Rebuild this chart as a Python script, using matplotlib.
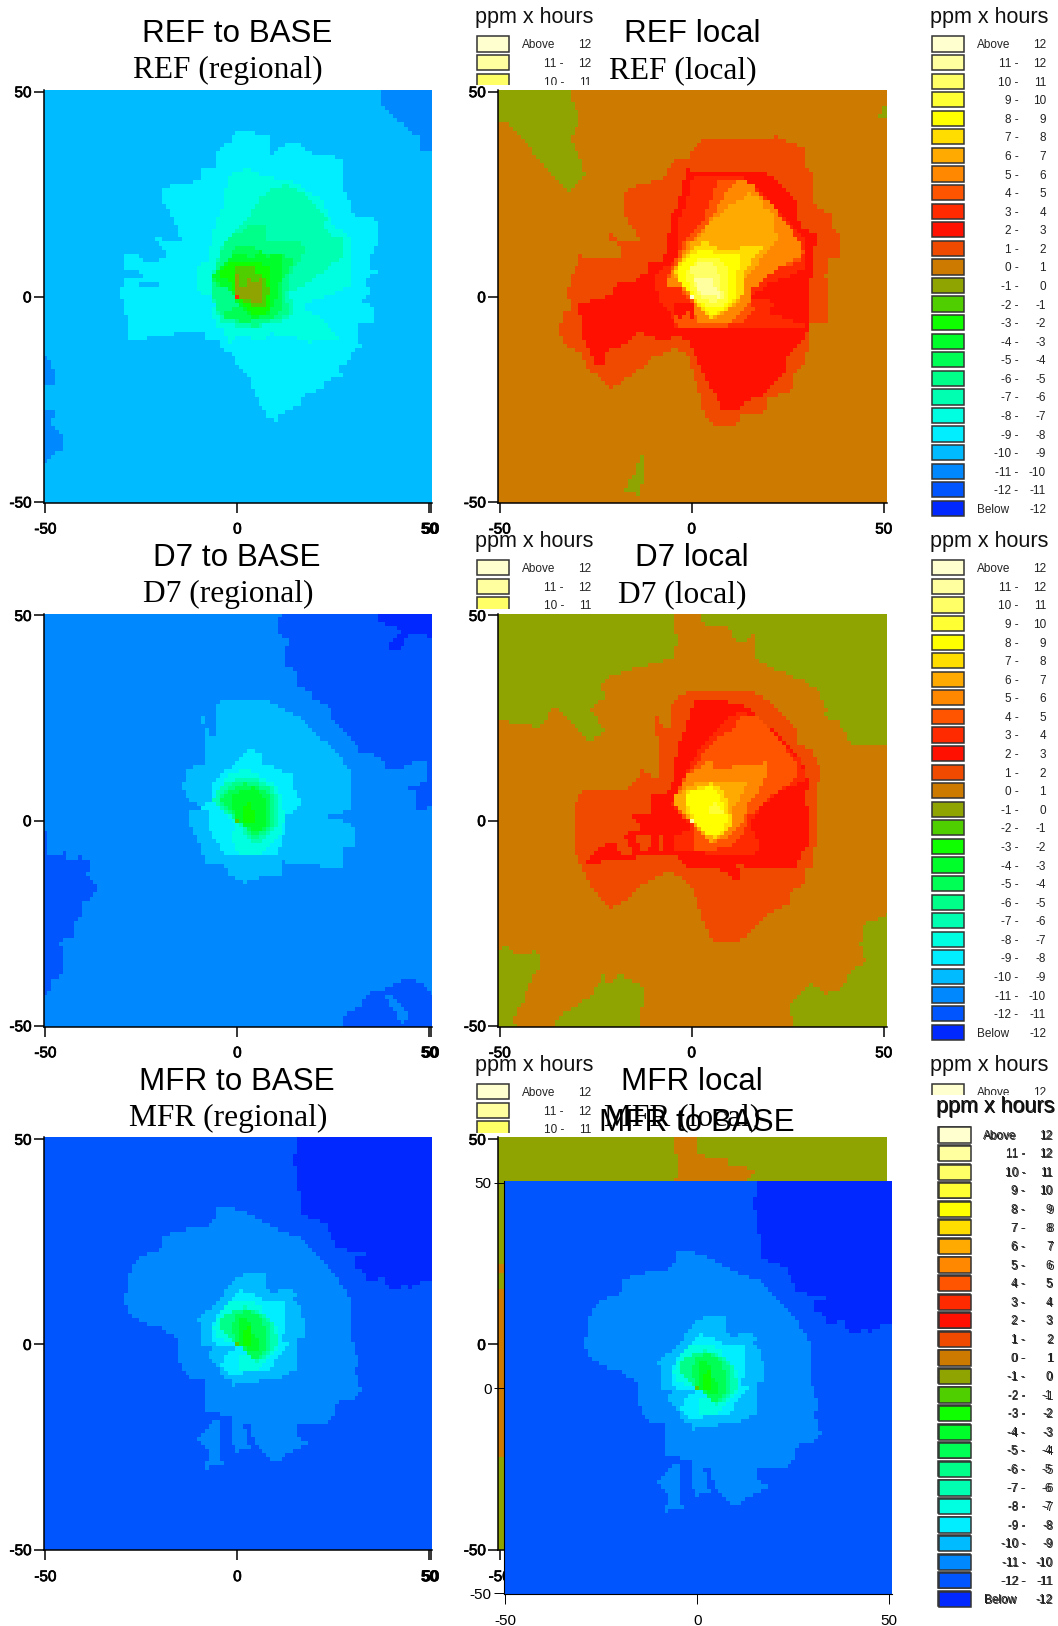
#!/usr/bin/env python3
"""Six ozone difference maps (ppm x hours), one pasted over another."""

import numpy as np
import matplotlib
matplotlib.use("Agg")
import matplotlib.pyplot as plt
import matplotlib.patheffects as pe
from matplotlib.colors import BoundaryNorm, ListedColormap
from matplotlib.patches import Rectangle
from matplotlib.path import Path

plt.rcParams["font.family"] = ["Liberation Sans", "DejaVu Sans"]
plt.rcParams["axes.unicode_minus"] = False

W, H = 1058, 1626
SANS, SERIF = "Liberation Sans", "Liberation Serif"

# legend, top to bottom
BAND_COLORS = ["#ffffd0", "#ffffa0", "#ffff66", "#ffff33", "#ffff00", "#ffdd00",
               "#ffaa00", "#ff8800", "#ff5500", "#ff2a00", "#ff1000", "#f04a00",
               "#cc7a00", "#8fa400", "#4fce00", "#10ff00", "#00ff2a", "#00ff55",
               "#00ff88", "#00ffb0", "#00ffe0", "#00eeff", "#00bbff", "#0088ff",
               "#0055ff", "#0028ff"]
LEGEND_LOW = ["Above", "11 -", "10 -", "9 -", "8 -", "7 -", "6 -", "5 -", "4 -",
              "3 -", "2 -", "1 -", "0 -", "-1 -", "-2 -", "-3 -", "-4 -", "-5 -",
              "-6 -", "-7 -", "-8 -", "-9 -", "-10 -", "-11 -", "-12 -", "Below"]
LEGEND_HIGH = ["12", "12", "11", "10", "9", "8", "7", "6", "5", "4", "3", "2", "1",
               "0", "-1", "-2", "-3", "-4", "-5", "-6", "-7", "-8", "-9", "-10",
               "-11", "-12"]
TICKS = [-50, 0, 50]

# contour outlines, in km; a band is named by its lower bound
REF_REG_NE = [(38, 51), (52, 51), (52, 35.5), (48, 35.5), (47, 39), (44, 41.4), (40.7, 43.5), (37, 47.3)]
REF_REG_W1 = [(-52, -14.5), (-49.5, -14.5), (-47.2, -18.7), (-47.2, -21.2), (-52, -21.5)]
REF_REG_W2 = [(-52, -27.5), (-47.2, -27.5), (-47.2, -28.3), (-48.5, -30.4), (-45.6, -34.2), (-45.6, -37),
              (-48.5, -38.4), (-49.5, -40.5), (-52, -40.5)]
REF_REG_M9 = [(0.4, 41), (6.3, 39.6), (8.5, 39), (8.5, 34.3), (10.7, 36), (13.7, 37.4), (16.3, 37.4), (18.5, 35.5),
              (21, 34.3), (25.4, 34), (27.6, 33), (27.6, 25.8), (29.3, 23), (30.2, 19.7), (34.5, 19.7), (37, 18),
              (37, 12.4), (35.4, 12), (34, 6.7), (36.3, 5.9), (33, 4.6), (34.4, 1), (32.8, -1), (35.2, -2.7),
              (35.2, -6.3), (31.5, -6.5), (31.5, -10.4), (32.8, -12), (29.3, -13.7), (29.3, -15.3), (26.3, -17),
              (27.6, -19), (22.4, -20.6), (22.4, -22.6), (18, -23.4), (16.3, -25.9), (11, -28.7), (9.8, -30.3),
              (7.6, -29), (6.3, -26.7), (4.6, -23.4), (2.4, -18.5), (-0.2, -16), (-1.5, -13.7), (-3.6, -13.3),
              (-4.5, -10.4), (-8.4, -10.4), (-8.4, -8.4), (-16.7, -8.4), (-16.7, -9.6), (-23.6, -9.6),
              (-23.6, -10.4), (-28.4, -10.3), (-28.4, -7.3), (-30.4, 1), (-29.4, 4.5), (-23.7, 4.6), (-25.8, 6.1),
              (-29.4, 7), (-29.4, 10.3), (-25.8, 10.3), (-24.2, 8.2), (-18.6, 9.5), (-18.6, 11.6), (-22, 13.7),
              (-22, 15.4), (-19, 13.7), (-14.5, 13.7), (-17.5, 21), (-19.6, 23), (-20, 26.3), (-17.5, 27),
              (-9.3, 28.4), (-9.3, 31.3), (-5.7, 31.3), (-5.7, 35.5), (-2, 38)]
REF_REG_SLIT = [(-26, 3.4), (-20.5, 3.4), (-20.5, 2.5), (-26, 2.5)]
REF_REG_M8 = [(-2, 30), (1.5, 31), (4, 31), (6.3, 29.8), (10, 29), (13.7, 28.6), (18, 26), (22, 23.7), (24, 19.7),
              (25.4, 17.2), (29.3, 14.4), (29.3, 2.6), (26.3, 1.4), (16.3, -2.3), (21.5, -4.7), (23.3, -6.3),
              (26.3, -10), (19.8, -10.4), (19.8, -11.6), (18, -10.4), (8.5, -8.8), (6.8, -10.4), (3.3, -10),
              (-0.2, -9.6), (-2, -11.2), (-3.6, -8), (-5.4, -7.2), (-7, -3.9), (-7.5, -1.5), (-10.6, 1),
              (-10.6, 7.5), (-7.5, 9), (-6.7, 15.2), (-5.4, 18.5), (-3.6, 22.5), (-2.8, 27.4)]
REF_REG_WEDGE = [(-10, 1), (0, 0), (-0.5, -1), (-5, -2.5), (-7, -3.5), (-8, -1.5)]
REF_REG_M7 = [(9.4, 26.6), (12.8, 27.4), (16.3, 25.8), (20.7, 21.7), (23.3, 18.9), (22.4, 16.8), (24.6, 14.8),
              (27.6, 14.1), (27.6, 10.3), (23.3, 6.7), (17.2, 2.6), (13.7, 1), (14.6, -4.7), (10.2, -6.3),
              (4.2, -7.6), (-3.6, -6.7), (-5, -4.7), (-7, 1.4), (-5.4, 9), (-3.6, 13), (-1, 15), (2.4, 19),
              (4.6, 22.5), (6.3, 24.5)]
REF_REG_M6 = [(2.9, 17.2), (7.2, 17.2), (7.6, 13), (12.8, 14), (16.3, 13), (18, 12.4), (16.3, 9), (13.7, 5),
              (12.8, 1), (13.3, -4.7), (9.8, -5.5), (4.2, -7.3), (-1.9, -5.5), (-4.5, -4.7), (-7, 2.5), (-5, 9),
              (-3.2, 13), (-1.9, 15), (0.7, 15.6)]
REF_REG_M5 = [(-7, 3.4), (-5.4, 6.3), (-1.5, 10.3), (0, 12.4), (4.6, 12.4), (5.9, 10.7), (12, 10.3), (14.6, 8.7),
              (12, 4), (12, -2.7), (10, -5), (1.6, -6.2), (-4.5, -4.7), (-2.8, -3.5), (1.6, -1.9), (0.3, -0.7),
              (-1, 0.6), (-3.6, 2.5)]
REF_REG_M4 = [(-6.3, 5), (-3.6, 8.3), (-0.6, 10.3), (2, 10.3), (4.2, 9.5), (5.5, 11.5), (7.2, 9.9), (11.5, 10.3),
              (11.5, 4.6), (9.4, -1.9), (8.5, -3.9), (4.2, -5.5), (0.7, -2.7), (-1, 0.6), (-2.8, 2.2), (-5.4, 3.8)]
REF_REG_M3 = [(-4.5, 6.3), (-1, 8.7), (6.3, 8.5), (8.5, 6.7), (8.5, 0.6), (8.5, -3.5), (6.3, -4.5), (4.2, -4.3),
              (1.6, -1.9), (0.3, -0.7), (-1, 1.8), (-2.3, 4.2), (-4.3, 4.6)]
REF_REG_M2 = [(-0.3, 7.5), (4.2, 7.5), (4.2, 6.3), (6.3, 5), (8.5, 2.2), (8.5, 0.6), (7.2, -0.6), (7.2, -2.7),
              (4.6, -2.7), (2, -1.1), (0.3, -0.7), (-0.3, 0.6)]
REF_REG_M1 = [(-0.3, 5.4), (0.5, 5.4), (0.5, 2.2), (2.4, 3), (2.4, 4.6), (3.7, 4.6), (4.2, 3.4), (6.3, 4.6), (6.3, 0.6),
              (7.2, -0.6), (5, -1.5), (2, -0.7), (0.3, -0.7), (-0.3, 0.6)]
ORIGIN_CELL = [(-0.5, -0.5), (0.5, -0.5), (0.5, 0.5), (-0.5, 0.5)]

REF_LOC_NW = [(-52, 52), (-32.4, 52), (-30.9, 47.3), (-29.1, 43.2), (-31.7, 38.4), (-29.1, 33.5), (-27.6, 29.4),
              (-31.7, 25.4), (-34.3, 27.8), (-40.4, 34.3), (-45.7, 40), (-48.3, 43.2), (-52, 41.6)]
REF_LOC_NE = [(48.7, 43.4), (50, 46.3), (52, 46.3), (52, 43.4)]
REF_LOC_S = [(-17.4, -46.9), (-15.2, -43.7), (-13.5, -38.5), (-12.6, -38.5), (-12.6, -42.9), (-13.6, -48.2), (-15.7, -47.8)]
REF_LOC_P1 = [(2, 38), (9, 38), (12, 38), (20, 38), (22, 39), (25, 38), (30, 36), (30, 32), (32, 30), (32, 22.5),
              (36.5, 20), (37, 17), (39, 15), (38.5, 10), (36, 9), (35, 5), (36, -6), (31, -7), (31, -11), (30, -14),
              (30, -16), (27, -19), (26, -23), (20, -25), (19, -28), (13, -29), (11, -32), (7, -32), (3.5, -29),
              (2, -24), (0.5, -19), (-1, -14.5), (-4, -12.5), (-10, -15), (-14, -18), (-18, -20.5), (-21, -22.5),
              (-25, -18.5), (-27, -18), (-29, -13.5), (-33.5, -11.5), (-34.5, -8), (-33.5, -4), (-31.5, -3),
              (-32.5, 1), (-31.5, 4), (-29, 10), (-25.5, 9.5), (-18.5, 9.5), (-18, 11.5), (-22, 14.5), (-21.5, 15.5),
              (-18.5, 13.5), (-13.5, 13), (-14.5, 15.5), (-16.5, 18), (-18, 21), (-18, 24.5), (-16, 26.5),
              (-7.5, 29), (-5, 33), (-0.5, 33.5), (0, 35.5)]
REF_LOC_P2 = [(-1, 31), (20, 30), (23.5, 27.5), (27.5, 22.5), (27.5, 19), (29, 16.5), (32.5, 15), (32, 12.5), (31, 4),
              (30.5, -7.5), (29.5, -9.5), (28, -12), (25, -15), (24.5, -18.5), (19.5, -23.5), (14.5, -25.5),
              (12, -28), (8.5, -28), (5.5, -23), (2, -16.5), (-1, -11), (-3.5, -9.5), (-8, -10.5), (-13.5, -8.5),
              (-16.5, -11.5), (-22.5, -13.5), (-22.5, -16.5), (-25, -16.5), (-28, -11), (-29.5, -2), (-21, 0.5),
              (-19.5, 3), (-14.5, 4), (-12, 6), (-11, 8.5), (-8, 8), (-6.5, 11.5), (-5.5, 20), (-3.5, 22.5), (-2, 28.5)]
REF_LOC_P3 = [(0.4, 29.4), (13.5, 29), (17, 26.5), (23, 20.5), (29.1, 14), (29.6, 6.7), (19.6, 3), (15.7, 0),
              (20.4, -1), (23, -4.7), (29.6, -7), (20, -7.5), (-2.2, -8), (-3.9, -8), (-5.7, -3.9), (-8.3, -1.5),
              (-9.6, 5), (-6.5, 7.5), (-3.9, 9), (-3.5, 18), (-1.3, 23.7)]
REF_LOC_R1 = [(19.6, 2.6), (29.6, 2.6), (29.6, -0.7), (24, 0.9), (20, 1.4)]
REF_LOC_R2 = [(20.4, -2.7), (24.8, -2.7), (25.7, -5.1), (21.3, -4.7)]
REF_LOC_P4 = [(6.5, 28.2), (13.5, 28.2), (17.8, 24.1), (28.3, 13.5), (29.6, 10.7), (27.4, 8.3), (21.3, 6.7), (17.4, 3),
              (15.7, 2.6), (15.2, -1.5), (16.5, -3.5), (12.6, -6.3), (7.8, -7.5), (-3.9, -7.2), (-4.3, -5.1),
              (-0.9, -3.1), (-0.4, -0.7), (-3.9, 3), (-6.5, 3), (-6.5, 4.2), (-1.7, 13.6), (3, 18.5), (6, 26.6)]
REF_LOC_P5 = [(10.4, 27.5), (13, 28.7), (15.7, 27.5), (17.8, 24.6), (21.3, 22.1), (28.3, 13.2), (28.3, 10), (24.8, 8.3),
              (19.6, 5), (17.4, 3), (15.2, 2.6), (15.2, -1.5), (12.2, -3.9), (10, -6.3), (1.3, -6.3), (0.4, -2.3),
              (0, -0.2), (-3.5, 3), (-6.5, 2.6), (-6.5, 4.2), (-3.9, 7.5), (-1.7, 12.4), (3.5, 17.2), (7.4, 22.9)]
REF_LOC_R3 = [(-4.3, -1.9), (-1.3, -1), (0.4, -2.3), (0.4, -5.5), (-0.4, -5.5), (-0.9, -3.1), (-3, -5.1), (-4.3, -3.9)]
REF_LOC_P6 = [(3.9, 17.2), (9.6, 22.1), (12.6, 23.3), (14.8, 25.2), (17.7, 24.1), (18.7, 21.7), (21.3, 20.9), (21.7, 15.6),
              (22.6, 14), (19.1, 10.7), (16.5, 7), (13.5, 4.2), (13.5, 1), (11.3, -2.3), (5.2, -5.5), (1.3, -1.5),
              (-4.8, 5.9), (-2.2, 10), (0, 13.2), (3, 15.6)]
REF_LOC_P7 = [(-0.4, 11.6), (3, 13.5), (8.3, 11.5), (16, 12.4), (18.1, 12), (16, 9), (13.5, 5.8), (13.5, 1), (11.7, -1.4),
              (5.2, -5.5), (1.3, -1.5), (-4.3, 5.9), (-2.6, 9)]
REF_LOC_P8 = [(-4.3, 5.4), (-0.4, 10.3), (3, 11.6), (7.4, 10.3), (12.6, 10.3), (11.7, 5), (11.7, 0.2), (10, -1.9),
              (4.8, -4.8), (0.4, -0.2)]
REF_LOC_P9 = [(-1.7, 5.9), (1.7, 9.1), (7, 9.5), (10, 6.7), (9.6, 2.6), (10, -1.5), (5.7, -3), (2.2, -1.5), (0, 1)]
REF_LOC_P10 = [(-0.4, 6.7), (2.2, 8.7), (6.5, 7.9), (7.4, 4.2), (8.3, -0.2), (4.8, -1.5), (1.7, 0.6)]
REF_LOC_P11 = [(0.9, 4.2), (4.3, 5), (7, 1.8), (7.4, -0.2), (3.9, 0.6), (1.7, 1.4)]

D7_REG_NE = [(11.6, 52), (52, 52), (52, 3.4), (46.8, 2.6), (46.3, 7.5), (44.2, 7.9), (49.4, 9.9), (49.4, 14), (45.5, 14),
             (43.3, 12.7), (38.5, 13), (38, 14.8), (35.5, 16.2), (32.9, 16), (30.3, 18.8), (24.6, 24.5), (24.6, 26.9),
             (22.4, 28.5), (19.8, 29.8), (19.4, 31.4), (15.5, 32.6), (15, 36.7), (12.4, 38.3), (13.3, 44),
             (10.7, 45.6), (10.7, 48)]
D7_REG_CORNER = [(37.2, 52), (52, 52), (52, 44.4), (46.3, 46), (43.7, 44), (42.4, 41), (40.3, 41), (39.4, 43),
                 (42.4, 45.6), (40.7, 47.6), (36.3, 48.4)]
D7_REG_W = [(-52, -2.7), (-49.3, -2.7), (-49.3, -8.4), (-46.4, -8.4), (-44.5, -7.5), (-44.5, -9.6), (-40.6, -8.8),
            (-38.4, -10), (-38.4, -12.4), (-39.5, -12.8), (-37.6, -15.2), (-36.2, -16.9), (-37.6, -18.5),
            (-40.6, -19.7), (-40.6, -23.4), (-42.8, -25.4), (-42.8, -28.2), (-46.3, -29.4), (-45.4, -31.5),
            (-45.4, -37.1), (-48.4, -39.2), (-49.3, -42.4), (-52, -42.4)]
D7_REG_SE = [(26.8, -52), (28, -47.3), (31.6, -45.7), (34.6, -41.7), (38.1, -41.7), (39.4, -40.5), (42.4, -38.8),
             (45, -38.8), (47.2, -39.2), (49.4, -40.8), (52, -42.8), (52, -52)]
D7_REG_STRIPE = [(38.5, -42.7), (40.3, -42.7), (44.6, -46.9), (43.3, -49.3), (41.6, -47.7)]
D7_REG_M10 = [(-3.7, 29.8), (4.2, 30), (8.5, 29), (13.7, 26.5), (18, 24), (22.4, 19.6), (27.7, 14.4), (29.4, 11.5),
              (29.4, 2.6), (23.7, 1), (26.8, 0.2), (30.3, -1.5), (30.3, -6.3), (28, -6.7), (28, -11.6), (19.8, -10.8),
              (12, -10), (11.6, -12.4), (12.4, -14), (6.8, -13.6), (2.4, -15.2), (-1.9, -13.2), (-3.7, -10.8),
              (-8.4, -10.4), (-10.2, -4.7), (-12.3, -1.5), (-12.3, 2.6), (-9.3, 3), (-13.2, 5.8), (-14.5, 7.9),
              (-13.2, 12.3), (-8.4, 14), (-8.4, 19.2), (-9.3, 25.3), (-8.4, 25.3), (-7.6, 20.4), (-5.4, 21.2), (-5.8, 28.5)]
D7_REG_M9 = [(2.9, 17.4), (6.3, 16.3), (6.8, 14), (11.1, 12.3), (14.6, 11.1), (14.6, 8.3), (15.9, 6.7), (16.3, 3.8),
             (14.6, 1.8), (12.4, 1), (12.4, -2.3), (11.6, -4.7), (10.3, -8.8), (-3.7, -8.8), (-4.5, -6.3), (-7, -3),
             (-7.5, 2.6), (-9.3, 3), (-7, 5), (-7, 7.5), (-4.5, 11.5), (-1.9, 12.7), (0.5, 15.2)]
D7_REG_M8 = [(-1.9, 11.5), (2.4, 12.3), (6.8, 10.3), (9.4, 9.5), (11.1, 6.7), (12.4, 1), (11.1, -3), (8.5, -6.3),
             (5.9, -8.4), (0.3, -8.4), (-1.5, -3.9), (-0.2, -0.6), (-4.5, 2.6), (-6.3, 5), (-4.5, 8.3)]
D7_REG_M7 = [(-1.5, 9.9), (2.4, 10.3), (6.3, 9.9), (8.9, 8.3), (10.7, 5), (10.7, -1.5), (7.7, -3.5), (5.9, -5.5),
             (2.4, -4.7), (0.7, -0.6), (-4.5, 3), (-6.3, 5), (-4.5, 8.3)]
D7_REG_M6 = [(-1.9, 9), (3.3, 9.9), (8.5, 7.9), (9.8, 4.2), (9.8, -0.6), (6.8, -3.5), (4.2, -4.3), (0.7, -0.6),
             (-3.7, 3), (-5, 5), (-4, 7)]
D7_REG_M5 = [(-3, 7), (2, 9), (5, 8.5), (8, 6.5), (8.5, 3), (9, -1), (6, -3), (4, -4), (1, -0.5), (-2, 2), (-4.5, 5)]
D7_REG_M4 = [(-1, 6.5), (4, 8), (7, 5.5), (8, 2), (7.5, -1), (5, -3), (3, -2), (0, 0), (-1.5, 3)]
D7_REG_M3 = [(1, 3), (3, 4), (5, 1), (4, -1), (1, 0)]

D7_LOC_NW = [(-52, 52), (-4.3, 52), (-3.9, 43), (-4.3, 39.2), (-8.7, 38.9), (-15.2, 37), (-21.7, 35), (-23.5, 33),
             (-22.2, 30), (-26.5, 27.7), (-22.6, 21.6), (-27.4, 19.2), (-30, 22.9), (-35.2, 27.9), (-40, 22.9),
             (-45, 23.3), (-52, 25.3)]
D7_LOC_NE = [(9.6, 52), (52, 52), (52, 18.8), (41.7, 18.4), (38.3, 24), (34.3, 25.3), (35.2, 27.3), (32.6, 31.8),
             (28.7, 34.2), (22.6, 36.7), (16.5, 39.5), (16.5, 45.6), (12.6, 43), (9.6, 46.6)]
D7_LOC_N = [(1.7, 52), (9.6, 52), (9.6, 47.2), (5.7, 47.2), (2.2, 48.8)]
D7_LOC_SW = [(-52, -31.5), (-48.3, -30.7), (-45.2, -33), (-40.4, -31.5), (-39.1, -35), (-42.2, -39.6), (-43.5, -42.8),
             (-43.9, -44.4), (-46.5, -47.7), (-45.2, -52), (-52, -52)]
D7_LOC_S = [(-37.4, -52), (-34, -47.3), (-29.1, -44.8), (-25.7, -42), (-23, -37.5), (-21.7, -40.7), (-18.7, -37.5),
            (-12.6, -40.7), (-13.5, -52)]
D7_LOC_SE = [(26.5, -52), (25.7, -44.8), (31.3, -39.6), (34.8, -42.4), (38.7, -40.7), (42.6, -35.9), (45.2, -34.7),
             (43.9, -29.8), (44.8, -25.4), (52, -22.5), (52, -52)]
D7_LOC_P1 = [(-4.3, 29.8), (0.4, 32), (10.9, 31.2), (16, 31.3), (21.3, 28.3), (27.4, 21.8), (27.4, 18.2), (30.9, 17.8),
             (33.5, 12.1), (32.2, 6), (32.2, -5.5), (31.3, -11.2), (29.6, -12), (29.6, -14.9), (26, -17.7), (25.2, -20),
             (19.6, -23), (15.2, -27.4), (11.3, -29.4), (5.7, -29.4), (3.5, -25.4), (0.4, -16.9), (-3, -13.6),
             (-6.5, -12.4), (-9.1, -14), (-12.2, -15.2), (-15.2, -18.1), (-20.9, -21.3), (-26.5, -16), (-29.1, -10.4),
             (-30.4, -7.1), (-30.4, 3.4), (-28.3, 7.9), (-17, 7.9), (-14.3, 9.9), (-13.5, 12.3), (-8.7, 10.3),
             (-8.3, 18.8), (-9.6, 22.5), (-9.1, 26.1), (-7.8, 22.9), (-5.2, 22.5), (-5.2, 28.4)]
D7_LOC_P2 = [(1.7, 30), (9.6, 29), (14.3, 27.7), (17, 25.3), (23, 20.4), (28.3, 15.6), (30.4, 9), (29.6, 5), (30.7, 1),
             (30.7, -5.9), (28.3, -8.8), (27.4, -11.2), (18.7, -11.6), (11.7, -10.8), (13, -15.2), (9.6, -13.2),
             (5.7, -11.2), (-1.3, -11.6), (-3.9, -8.8), (-12.6, -8.6), (-17.4, -9.6), (-28.7, -10.4), (-26.5, -9.2),
             (-23.9, -6.7), (-20.4, -4.7), (-18.7, -8.4), (-15.2, -8.4), (-17.4, -3.1), (-12.6, -2.7), (-15.7, 1.1),
             (-10.4, 1.8), (-10.4, 6.2), (-6.5, 7), (-4.3, 10.7), (-3.9, 17.2), (-1.3, 22.9), (0.4, 29.4)]
D7_LOC_GAP1 = [(-14.5, -3.1), (-10.4, -3.5), (-11.3, -7.5), (-13.5, -7.5)]
D7_LOC_GAP2 = [(-8.5, -3.1), (-7.6, -3.5), (-7.6, -7.5), (-8.5, -7.5)]
D7_LOC_P3 = [(12.2, 26.9), (17, 25.3), (23, 19.6), (28.3, 14.8), (29.6, 9.9), (25.7, 8.3), (23, 7.5), (17.8, 3),
             (15.2, -0.6), (18.3, -6.7), (15.2, -8.8), (2.2, -7.9), (-4.3, -7.5), (-4.3, -3.9), (0.4, -1.5), (-3, 1.8),
             (-5.2, 4.2), (-2.2, 9.9), (1.7, 17.2), (6.5, 22.5)]
D7_LOC_P4 = [(13.5, 26.1), (17, 25.3), (21.3, 21.2), (27.4, 14), (27.4, 10.3), (23, 7.9), (17.8, 3), (14.8, 1),
             (13.5, -3.1), (9.6, -6.7), (0.4, -7.5), (0.4, -3.1), (0.9, -1.5), (-3, 1.8), (-4.8, 5), (-2.2, 10.7),
             (2.2, 15.2), (7, 20.8), (10, 21.2)]
D7_LOC_P5 = [(4.8, 15.2), (5.7, 12.7), (12.6, 13.1), (19.6, 14.2), (19.6, 11.5), (17.4, 7.5), (14.8, 3.8), (13.5, 0.2),
             (11.7, -1.5), (9.1, -4.7), (5.7, -5.1), (1.3, -1.5), (-4.3, 4.2), (-1.7, 10.7), (1.7, 12.7)]
D7_LOC_P6 = [(0.4, 9.2), (14.3, 10), (13.5, 6.7), (10.9, 3.4), (10.9, -1), (7.4, -3.9), (5.2, -5.5), (1.3, -1.5),
             (-4.3, 4.2), (-4.3, 5.8)]
D7_LOC_P7 = [(-1.3, 7), (5.2, 9.2), (7.4, 7.9), (9.6, 5), (10.4, -1.5), (5.7, -4.5), (1.3, -1), (-1.5, 2.6)]
D7_LOC_P8 = [(-1.3, 6.8), (5.2, 8.3), (7.8, 5.8), (8.3, 3), (9.6, 0.2), (7.8, -2.7), (5.2, -4), (1.7, -1.5), (-0.9, 2.6)]
D7_LOC_P9 = [(3.9, 3.4), (6.5, 4.2), (8.3, 1.8), (5.7, 1)]

MFR_REG_NE = [(16.3, 52), (52, 52), (52, 15.3), (47.8, 15.3), (45.2, 13.7), (43.5, 15.3), (42.4, 13.7), (39.8, 14),
              (38.1, 16.1), (33.7, 15.7), (32.9, 18.1), (30.4, 18.5), (30.4, 21.4), (33.3, 21.5), (33.3, 22.6),
              (29.4, 22.4), (25.5, 24.2), (24.6, 26.7), (23.3, 29.5), (17.2, 31.6), (16.3, 32.8), (16.3, 36.1),
              (15.5, 39.3), (15.5, 42.2), (14.6, 44.2), (15.5, 49)]
MFR_REG_M11 = [(-5.4, 33.1), (-1, 33.1), (1.6, 32.2), (5.9, 30.2), (9.4, 28.6), (12, 27.4), (16.3, 26.1), (20.7, 22),
               (24.6, 18), (27.9, 13.5), (29.2, 11.5), (29.2, 1), (30.3, 0.2), (31.4, -4.6), (30.5, -6.6), (32.3, -11),
               (30.3, -13.5), (27.6, -13.5), (25.4, -15.2), (25.4, -17.2), (22.4, -20), (19.8, -19.2), (15.5, -20),
               (15.5, -22.5), (18.5, -23.8), (13.7, -26.2), (11.6, -28.3), (8.5, -28.3), (5, -25), (3.3, -20),
               (1.6, -19.6), (3.3, -25), (-0.6, -26.2), (-1.5, -22.2), (-1.5, -18.5), (-2.8, -17.2), (-8.4, -16.4),
               (-8.4, -8.3), (-13.2, -7.9), (-15.4, -3.8), (-15.4, 1), (-19.7, 4.3), (-25.4, 5.5), (-28.4, 8),
               (-29.3, 10), (-28.4, 17.4), (-26.3, 20.3), (-24.5, 21.5), (-19.3, 23.4), (-20, 26.3), (-17.6, 27),
               (-12.3, 28.3), (-8, 29), (-5.4, 30.7)]
MFR_REG_ISLE = [(-6.3, -18.5), (-4.5, -18.5), (-4.5, -28.3), (-3.6, -28.3), (-3.6, -30), (-7.5, -30), (-8.4, -31),
                (-8.4, -29.5), (-7, -26.2), (-10.6, -23.4), (-8.9, -21.4)]
MFR_REG_M10 = [(1.6, 17.3), (7.2, 17.3), (7.6, 14), (9.8, 12.4), (12.8, 14), (15.5, 12), (14.6, 10.3), (16.3, 9.9),
               (17.2, 6), (17.2, 1.5), (15.5, 1), (15.5, -5.9), (11.1, -8.3), (4.2, -9.2), (1.6, -9.2), (-1.5, -10.3),
               (-1.5, -9.1), (-4, -7.5), (-6.3, -3.8), (-7.5, -3), (-6.7, -1), (-9.3, -0.6), (-9.5, 5.5), (-10.6, 6),
               (-7.5, 8.4), (-3.6, 12.4), (-1.5, 15.3)]
MFR_REG_M9 = [(0.7, 13.3), (4.2, 12.4), (5, 11.2), (12.4, 10), (12.4, 3.5), (10.7, 0.2), (13.5, 0.2), (11.1, -2.2),
              (9.4, -4.2), (8.5, -6.7), (1.6, -7), (-2.3, -7.5), (-4.5, -5), (-2.8, -2.2), (0, -0.5), (-5.8, -0.5),
              (-6.3, 1.5), (-6.3, 5.2), (-4.5, 8), (-2.3, 10.4)]
MFR_REG_M8 = [(-2.3, 10), (2.4, 10.4), (5.9, 9.6), (7.6, 6.8), (10.3, 4.3), (10.3, -0.6), (8, -3.8), (5, -6.7),
              (0.3, -6.7), (0.3, -3), (2.9, -1.8), (-0.2, -0.2), (-5.4, 1.5), (-6.3, 4.3), (-4.5, 7.5)]
MFR_REG_M7 = [(-1.9, 8), (2.4, 9.2), (6.8, 7.2), (9.8, 4.3), (10.3, -0.6), (7.6, -3.4), (5, -4.2), (2.4, -2.2),
              (-0.2, 0.2), (-4.5, 3.5), (-4.5, 6.4)]
MFR_REG_M6 = [(-1.5, 8), (3, 8.7), (6.5, 7), (9, 4), (8.5, -1), (6, -3.5), (5, -4), (2, -2), (0, 0.2), (-4.5, 3.5), (-4.5, 6.4)]
MFR_REG_M5 = [(-0.5, 7), (3, 8.5), (6, 6.5), (7.5, 3), (7.5, -1.5), (5, -4), (2.5, -2), (0, 0), (-2, 4)]
MFR_REG_M4 = [(0, 6), (3, 6), (4, 3), (6, 1), (5.5, -2), (3, -1.5), (0, 0.5)]
MFR_REG_M3 = [(1, 3), (3, 4), (4, 1), (3, -1), (1, 0)]

MFR_LOC_TOP = [(-4.4, 52), (1.5, 52), (1.5, 46.5), (4, 46.5), (4, 45), (6.7, 45), (9.3, 46), (9.3, 43.7), (14.5, 43),
               (16.5, 42), (14.5, 40), (14.5, 30), (-6, 30), (-4.4, 40), (-3, 43.2), (-4, 46.8)]
MFR_LOC_W1 = [(-52, 13.7), (-47, 13.7), (-47, -27.4), (-52, -27.4)]
MFR_LOC_W2 = [(-52, 19.6), (-47, 19.6), (-47, 17.8), (-52, 17.8)]

REF_REGIONAL = (-10, [(-11, REF_REG_NE), (-11, REF_REG_W1), (-11, REF_REG_W2), (-9, REF_REG_M9), (-10, REF_REG_SLIT),
                      (-8, REF_REG_M8), (-9, REF_REG_WEDGE), (-7, REF_REG_M7), (-6, REF_REG_M6), (-5, REF_REG_M5),
                      (-4, REF_REG_M4), (-3, REF_REG_M3), (-2, REF_REG_M2), (-1, REF_REG_M1), (3, ORIGIN_CELL)])
REF_LOCAL = (0, [(-1, REF_LOC_NW), (-1, REF_LOC_NE), (-1, REF_LOC_S), (1, REF_LOC_P1), (2, REF_LOC_P2), (3, REF_LOC_P3),
                 (2, REF_LOC_R1), (2, REF_LOC_R2), (4, REF_LOC_P4), (5, REF_LOC_P5), (2, REF_LOC_R3), (6, REF_LOC_P6),
                 (7, REF_LOC_P7), (8, REF_LOC_P8), (9, REF_LOC_P9), (10, REF_LOC_P10), (11, REF_LOC_P11),
                 (12, ORIGIN_CELL)])
D7_REGIONAL = (-11, [(-12, D7_REG_NE), (-13, D7_REG_CORNER), (-12, D7_REG_W), (-12, D7_REG_SE), (-11, D7_REG_STRIPE),
                     (-10, D7_REG_M10), (-9, D7_REG_M9), (-8, D7_REG_M8), (-7, D7_REG_M7), (-6, D7_REG_M6),
                     (-5, D7_REG_M5), (-4, D7_REG_M4), (-3, D7_REG_M3), (-2, ORIGIN_CELL)])
D7_LOCAL = (0, [(-1, D7_LOC_NW), (-1, D7_LOC_NE), (-1, D7_LOC_N), (-1, D7_LOC_SW), (-1, D7_LOC_S), (-1, D7_LOC_SE),
                (1, D7_LOC_P1), (2, D7_LOC_P2), (1, D7_LOC_GAP1), (1, D7_LOC_GAP2), (3, D7_LOC_P3), (4, D7_LOC_P4),
                (5, D7_LOC_P5), (6, D7_LOC_P6), (7, D7_LOC_P7), (8, D7_LOC_P8), (9, D7_LOC_P9), (11, ORIGIN_CELL)])
MFR_REGIONAL = (-12, [(-13, MFR_REG_NE), (-11, MFR_REG_M11), (-11, MFR_REG_ISLE), (-10, MFR_REG_M10), (-9, MFR_REG_M9),
                      (-8, MFR_REG_M8), (-7, MFR_REG_M7), (-6, MFR_REG_M6), (-5, MFR_REG_M5), (-4, MFR_REG_M4),
                      (-3, MFR_REG_M3), (-2, ORIGIN_CELL)])
MFR_LOCAL = (-1, [(0, MFR_LOC_TOP), (0, MFR_LOC_W1), (0, MFR_LOC_W2)])

CENTERS = np.arange(-51, 52)
EDGES = np.arange(-51.5, 52)
LEVELS = np.arange(-13.5, 13)
CMAP = ListedColormap(BAND_COLORS[::-1])
NORM = BoundaryNorm(LEVELS, CMAP.N)


def field(panel):
    base, bands = panel
    xx, yy = np.meshgrid(CENTERS, CENTERS)
    pts = np.column_stack([xx.ravel(), yy.ravel()])
    z = np.full(xx.shape, float(base))
    for level, outline in bands:
        z[Path(outline + outline[:1]).contains_points(pts).reshape(xx.shape)] = level
    return z


def map_axes(fig, left, top, panel, zorder=1, struck=True, double_tick=False):
    ax = fig.add_axes([left / W, 1 - (top + 413) / H, 388.3 / W, 413 / H], zorder=zorder)
    ax.pcolormesh(EDGES, EDGES, field(panel), cmap=CMAP, norm=NORM, antialiased=False)
    ax.set_xlim(-50.35, 50.75)
    ax.set_ylim(-50.2, 50.45)
    for side in ("top", "right"):
        ax.spines[side].set_visible(False)
    for side in ("left", "bottom"):
        ax.spines[side].set_linewidth(1.1 if struck else 0.8)
    ax.set_xticks(TICKS)
    ax.set_yticks(TICKS)
    ax.tick_params(length=7.5, width=1.1 if struck else 0.7, labelsize=11)
    ax.tick_params(axis="x", pad=6.7)
    ax.tick_params(axis="y", pad=1.5)
    if double_tick:
        ax.set_xticks([50.35], labels=["50"], minor=True)
        ax.tick_params(axis="x", which="minor", length=7.5, width=1.1, labelsize=11, pad=6.7)
    if struck:
        labels = ax.get_xticklabels() + ax.get_yticklabels() + ax.get_xticklabels(minor=True)
        for lab in labels:
            lab.set_path_effects([pe.withStroke(linewidth=0.5, foreground="black")])
    return ax


def legend(ax, x0, y0, clip_y=None, z=1, title_gap=26):
    """26 swatches with their ranges; x0 is the swatch left, y0 the first row centre."""
    arts = [ax.text(x0 + 57.5, y0 - title_gap, "ppm x hours", fontsize=15.5, ha="center", va="center",
                    color="#111111", zorder=z)]
    for i, (col, low, high) in enumerate(zip(BAND_COLORS, LEGEND_LOW, LEGEND_HIGH)):
        yc = y0 + i * 18.576
        arts.append(ax.add_patch(Rectangle((x0, yc - 7.6), 32, 15.2, facecolor=col,
                                           edgecolor="#333333", linewidth=1.1, zorder=z)))
        word = low in ("Above", "Below")
        arts.append(ax.text(x0 + 62 if word else x0 + 87, yc + 1.5, low, fontsize=8.5, va="center",
                            ha="center" if word else "right", color="#222222", zorder=z))
        arts.append(ax.text(x0 + 114.5, yc + 1.5, high, fontsize=8.5, va="center", ha="right",
                            color="#222222", zorder=z))
    if clip_y is not None:
        clip = Rectangle((0, 0), W, clip_y, transform=ax.transData)
        for art in arts:
            art.set_clip_on(True)
            art.set_clip_path(clip)


def titles(ax, cx, cy, main, sub, sub_cx):
    ax.text(cx, cy, main, fontsize=22.6, ha="center", va="center", color="black", zorder=5)
    ax.text(sub_cx, cy + 36.5, sub, fontsize=22.6, family=SERIF, ha="center", va="center", color="black", zorder=5)


fig = plt.figure(figsize=(W / 100, H / 100), dpi=100, facecolor="white")
back = fig.add_axes([0, 0, 1, 1], zorder=0)
front = fig.add_axes([0, 0, 1, 1], zorder=5)
for layer in (back, front):
    layer.set_xlim(0, W)
    layer.set_ylim(H, 0)
    layer.axis("off")
    layer.patch.set_alpha(0)

ROW_STEP = 523.8
rows = [("REF", REF_REGIONAL, REF_LOCAL), ("D7", D7_REGIONAL, D7_LOCAL), ("MFR", MFR_REGIONAL, MFR_LOCAL)]
for r, (name, regional, local) in enumerate(rows):
    dy = r * ROW_STEP
    map_axes(fig, 44, 89.8 + dy, regional, double_tick=True)
    map_axes(fig, 498.3, 89.8 + dy, local)
    legend(back, 477, 44 + dy, clip_y=85 + dy)
    legend(back, 931.5, 44 + dy, clip_y=1095 if r == 2 else None)
    titles(front, 237, 34 + dy, f"{name} to BASE", f"{name} (regional)", 228)
    titles(front, 692, 34 + dy, f"{name} local", f"{name} (local)", 682.5)

# the copy of the MFR map pasted over the lower right corner
map_axes(fig, 503.9, 1181, MFR_REGIONAL, zorder=3, struck=False)
front.text(697, 1123, "MFR to BASE", fontsize=22.6, ha="center", va="center", color="black", zorder=6)
legend(front, 938, 1134.2, z=4, title_gap=28)
legend(front, 939, 1135, z=4, title_gap=28)

fig.savefig("out.png", dpi=100)
plt.close(fig)
